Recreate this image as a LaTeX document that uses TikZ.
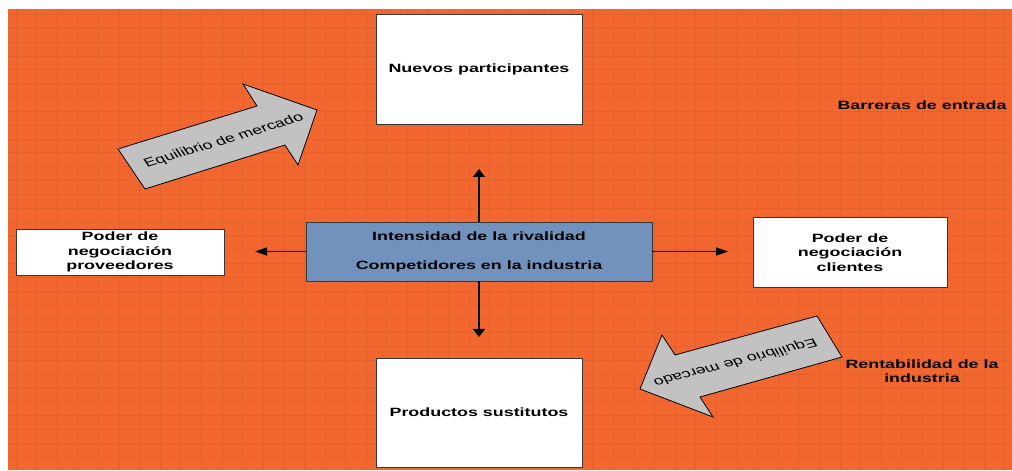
\documentclass[tikz,border=0pt]{standalone}
\usepackage{fontspec}
\newfontfamily\labfont{Liberation Sans}[FakeStretch=1.49]
\newfontfamily\arrfont{Liberation Sans}
\usetikzlibrary{arrows.meta}
\definecolor{bgorange}{RGB}{242,103,47}
\definecolor{gridor}{RGB}{229,97,42}
\definecolor{rivalblue}{RGB}{113,146,188}
\definecolor{arrowgray}{RGB}{194,194,194}
\definecolor{boxline}{RGB}{55,55,55}
\begin{document}
\begin{tikzpicture}[x=1bp,y=-1bp,
  lab/.style={font=\labfont\bfseries\fontsize{12bp}{14.5bp}\selectfont, align=center, text=black},
  whitebox/.style={lab, draw=boxline, line width=0.9bp, fill=white, inner sep=0pt},
  rivalbox/.style={lab, draw=boxline, line width=0.9bp, fill=rivalblue, inner sep=0pt},
  vconn/.style={line width=1.9bp, -{Triangle[length=8bp,width=12bp]}},
  hconn/.style={line width=1.3bp, -{Triangle[length=12bp,width=8bp]}},
  bigarrow/.style={fill=arrowgray, draw=black, line width=0.8bp, line join=miter},
  arrtext/.style={transform shape, font=\arrfont\fontsize{12bp}{14bp}\selectfont, text=black, inner sep=0pt}
]
\useasboundingbox (0,0) rectangle (1012,471);
\fill[white] (0,0) rectangle (1012,471);
\fill[bgorange] (8,9) rectangle (1012,470);
\foreach \i in {0,...,48} \draw[gridor, line width=0.8bp] ({16+20.6*\i},9) -- ({16+20.6*\i},470);
\foreach \j in {1,...,33} \draw[gridor, line width=0.55bp] (8,{0.6+13.83*\j}) -- (1012,{0.6+13.83*\j});

% boxes
\node[whitebox, minimum width=206bp, minimum height=110bp] (nuevos) at (479,69) {Nuevos participantes};
\node[whitebox, minimum width=206bp, minimum height=109bp] (sustitutos) at (479,412.5) {Productos sustitutos};
\node[whitebox, minimum width=208bp, minimum height=46bp] (proveedores) at (120,252) {Poder de\\negociación\\proveedores};
\node[whitebox, minimum width=194bp, minimum height=70bp] (clientes) at (850,252.5) {Poder de\\negociación\\clientes};
\node[rivalbox, minimum width=346bp, minimum height=59bp] (rival) at (479,251.5) {Intensidad de la rivalidad\\[14.5bp]Competidores en la industria};

% free labels
\node[lab] (barreras) at (922,105) {Barreras de entrada};
\node[lab] (rentab) at (922,371) {Rentabilidad de la\\industria};

% connectors
\coordinate (upend) at (479,169);
\coordinate (downend) at (479,337);
\coordinate (leftend) at (255,251.5);
\coordinate (rightend) at (728,251.5);
\draw[vconn] (rival.north) -- (upend);
\draw[vconn] (rival.south) -- (downend);
\draw[hconn] (rival.west) -- (leftend);
\draw[hconn] (rival.east) -- (rightend);

% big arrows
\draw[bigarrow] (118,149) -- (257,106) -- (243,84) -- (317,110) -- (298,165) -- (285,145) -- (145,189) -- cycle;
\draw[bigarrow] (817,316) -- (842,357) -- (700,397) -- (713,417) -- (640,389) -- (662,335) -- (675,355) -- cycle;
\begin{scope}[xscale=1.49]
\node[arrtext, rotate=24.4] (eq1) at (150.3,141) {Equilibrio de mercado};
\node[arrtext, rotate=200.7] (eq2) at (493.3,362) {Equilibrio de mercado};
\end{scope}
\end{tikzpicture}
\end{document}
